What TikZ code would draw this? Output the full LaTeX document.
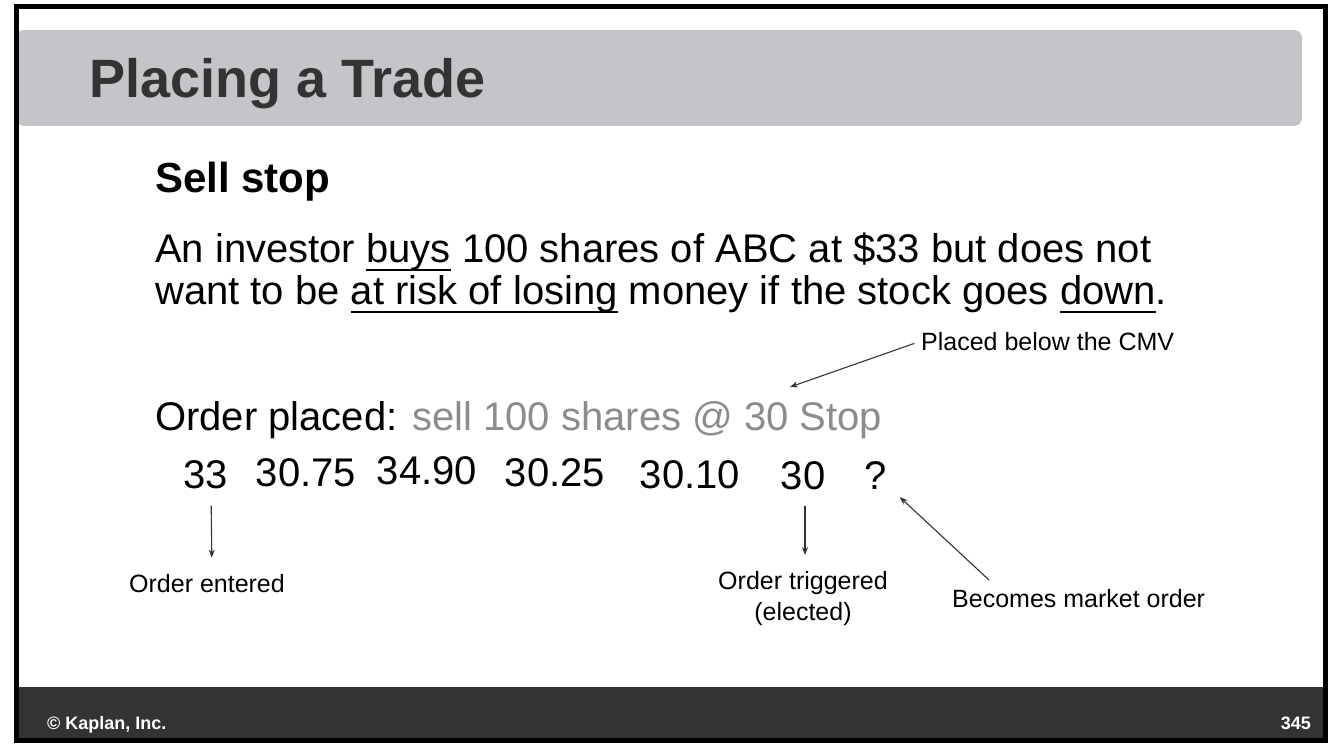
\documentclass[tikz,border=0pt]{standalone}
\usepackage{fontspec}
\setmainfont{Liberation Sans}
\usepackage{tikz}
\usetikzlibrary{positioning}
\usetikzlibrary{arrows.meta}
\definecolor{headgray}{HTML}{C4C5C8}
\definecolor{titlegray}{HTML}{333333}
\definecolor{footgray}{HTML}{333333}
\definecolor{stopgray}{HTML}{8C8C8C}
\definecolor{linegray}{HTML}{333333}
\newsavebox{\undlbox}
\newcommand{\undl}[1]{\sbox{\undlbox}{#1}\rlap{\rule[-8.5pt]{\wd\undlbox}{2.5pt}}\usebox{\undlbox}}
\tikzstyle{arrow} = [line width=1.1pt,linegray,-{Stealth[length=8pt,width=6pt]}]
\tikzstyle{txt} = [inner sep=0pt,anchor=base west]
\tikzstyle{price} = [inner sep=0pt,anchor=base,font=\fontsize{40}{42}\selectfont]
\tikzstyle{note} = [inner sep=0pt,font=\fontsize{25}{31}\selectfont]

\begin{document}
\begin{tikzpicture}[x=1pt,y=-1pt]
	\useasboundingbox (0,0) rectangle (1334,754);
	\fill[white] (0,0) rectangle (1334,754);
	
	%Header and footer
	\fill[headgray,rounded corners=8pt] (16,30) rectangle (1302,126);
	\fill[footgray] (16,687) rectangle (1325,740);
	\draw[line width=5pt,black] (16,7) rectangle (1325,740);
	
	%Nodes
	\node[txt,text=titlegray,font=\fontsize{54}{60}\selectfont\bfseries] (title) at (89,98) {Placing a Trade};
	\node[txt,font=\fontsize{42}{46}\selectfont\bfseries] (sell) at (155,193) {Sell stop};
	\node[txt,font=\fontsize{40}{42}\selectfont] (line1) at (155,263) {An investor \undl{buys} 100 shares of ABC at \$33 but does not};
	\node[txt,font=\fontsize{40}{42}\selectfont] (line2) at (155,305) {want to be \undl{at risk of losing} money if the stock goes \undl{down}.};
	\node[txt,font=\fontsize{40}{42}\selectfont] (order) at (155,430) {Order placed: \textcolor{stopgray}{sell 100 shares @ 30 Stop}};
	
	\node[price] (p1) at (206,488) {33};
	\node[price] (p2) at (306,486) {30.75};
	\node[price] (p3) at (427,484) {34.90};
	\node[price] (p4) at (555,486) {30.25};
	\node[price] (p5) at (690,488) {30.10};
	\node[price] (p6) at (803,489) {30};
	\node[price] (p7) at (876,489) {?};
	
	\node[note,anchor=base west] (cmv) at (921,350) {Placed below the CMV};
	\node[note,anchor=base] (entered) at (207,592) {Order entered};
	\node[note,anchor=north,align=center] (trig) at (803,571) {Order triggered\\(elected)};
	\node[note,anchor=base west] (market) at (952,607) {Becomes market order};
	
	\coordinate (stoptip) at (790,387);
	\coordinate (mktfoot) at (989,580);
	
	\node[txt,text=white,font=\fontsize{18}{20}\selectfont\bfseries] (copy) at (47,729) {© Kaplan, Inc.};
	\node[inner sep=0pt,anchor=base east,text=white,font=\fontsize{18}{20}\selectfont\bfseries] (page) at (1311,729) {345};
	
	%Lines
	\draw[arrow,shorten <=7pt] (cmv.west) -- (stoptip);
	\draw[arrow,shorten <=17pt,shorten >=16pt] ([xshift=5pt]p1.south) -- ([xshift=5pt]entered.north);
	\draw[arrow,shorten <=16pt,shorten >=16pt] ([xshift=2pt]p6.south) -- ([xshift=2pt]trig.north);
	\draw[arrow,shorten >=17pt] (mktfoot) -- (p7);
	
\end{tikzpicture}
\end{document}
